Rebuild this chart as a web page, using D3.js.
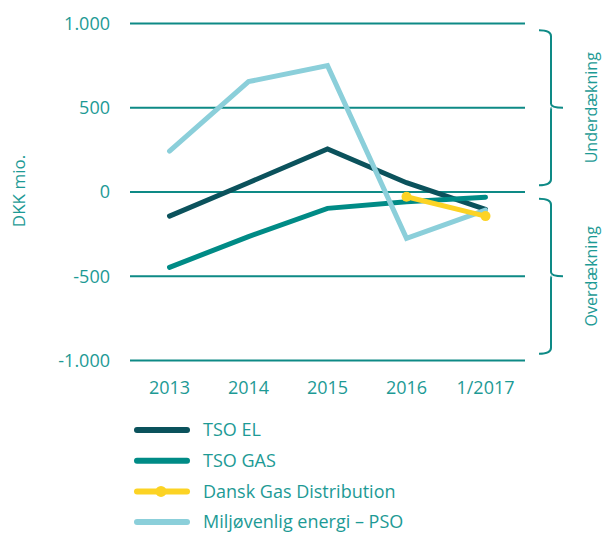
<!DOCTYPE html>
<html><head><meta charset="utf-8">
<script src="https://cdn.jsdelivr.net/npm/d3@7"></script>
<style>body{margin:0;background:#fff}svg{display:block}text{font-family:"Open Sans",sans-serif}</style>
</head><body>
<script>
const categories = ["2013","2014","2015","2016","1/2017"];
const tsoEl = [-143, 55, 255, 55, -103];
const tsoGas = [-447, -265, -97, -58, -31];
const danskGas = [null, null, null, -28, -143];
const pso = [243, 655, 750, -275, -107];
const yTicks = [1000, 500, 0, -500, -1000];
const seriesNames = ["TSO EL","TSO GAS","Dansk Gas Distribution","Miljøvenlig energi – PSO"];
const colors = ["#0b525c","#008b86","#fcd324","#8bcfda"];
const textColor = "#1d9a95";
const gridColor = "#0e8a86";

const W = 603, H = 533;
const svg = d3.select("body").append("svg").attr("width", W).attr("height", H);
const x = d3.scalePoint().domain(categories).range([130, 525]).padding(0.5);
const y = d3.scaleLinear().domain([-1000, 1000]).range([360.5, 23.5]);

const fmt = v => v === 0 ? "0" : d3.format(",")(v).replace(/,/g, ".").replace("\u2212", "-");
// grid
svg.append("g").selectAll("line").data(yTicks).join("line")
  .attr("x1", 130).attr("x2", 525).attr("y1", d => y(d)).attr("y2", d => y(d))
  .attr("stroke", gridColor).attr("stroke-width", 2);
svg.append("g").selectAll("text").data(yTicks).join("text")
  .attr("x", 110).attr("y", d => y(d)).attr("dy", "0.35em").attr("text-anchor", "end")
  .attr("fill", textColor).attr("font-size", 18).text(fmt);
svg.append("g").selectAll("text").data(categories).join("text")
  .attr("x", d => x(d)).attr("y", 394).attr("text-anchor", "middle")
  .attr("fill", textColor).attr("font-size", 18).text(d => d);
svg.append("text").attr("transform", "translate(25,191) rotate(-90)")
  .attr("text-anchor", "middle").attr("fill", textColor).attr("font-size", 17).text("DKK mio.");

// brackets
function bracket(y0, y1, ym) {
  const xb = 551, xl = 539, xr = 563;
  const p = d3.path();
  p.moveTo(xl, y0); p.quadraticCurveTo(xb, y0, xb, y0 + 6);
  p.lineTo(xb, ym - 4); p.quadraticCurveTo(xb, ym, xr, ym);
  p.moveTo(xb + 0.5, ym); p.quadraticCurveTo(xb, ym, xb, ym + 4);
  p.lineTo(xb, y1 - 6); p.quadraticCurveTo(xb, y1, xl, y1);
  svg.append("path").attr("d", p.toString()).attr("fill", "none")
    .attr("stroke", gridColor).attr("stroke-width", 2);
}
bracket(y(960), y(40), y(500));
bracket(y(-40), y(-960), y(-500));
svg.append("text").attr("transform", `translate(597,${y(500)}) rotate(-90)`)
  .attr("text-anchor", "middle").attr("fill", textColor).attr("font-size", 16).text("Underdækning");
svg.append("text").attr("transform", `translate(597,${y(-500)}) rotate(-90)`)
  .attr("text-anchor", "middle").attr("fill", textColor).attr("font-size", 16).text("Overdækning");

const line = d3.line().defined(d => d[1] != null).x(d => x(d[0])).y(d => y(d[1]));
const data = [tsoEl, tsoGas, danskGas, pso];
const order = [0, 1, 3, 2];
order.forEach(i => {
  const pts = categories.map((c, j) => [c, data[i][j]]);
  svg.append("path").datum(pts).attr("d", line).attr("fill", "none")
    .attr("stroke", colors[i]).attr("stroke-width", 5)
    .attr("stroke-linecap", "round").attr("stroke-linejoin", "miter");
  if (i === 2) {
    svg.append("g").selectAll("circle").data(pts.filter(d => d[1] != null)).join("circle")
      .attr("cx", d => x(d[0])).attr("cy", d => y(d[1])).attr("r", 5).attr("fill", colors[i]);
  }
});

// legend
const lg = svg.append("g");
seriesNames.forEach((n, i) => {
  const yy = 430 + i * 30.7;
  lg.append("line").attr("x1", 137).attr("x2", 187).attr("y1", yy).attr("y2", yy)
    .attr("stroke", colors[i]).attr("stroke-width", 6).attr("stroke-linecap", "round");
  if (i === 2) lg.append("circle").attr("cx", 161).attr("cy", yy).attr("r", 5.5).attr("fill", colors[i]);
  lg.append("text").attr("x", 203).attr("y", yy).attr("dy", "0.35em")
    .attr("fill", textColor).attr("font-size", 18).text(n);
});
</script>
</body></html>
